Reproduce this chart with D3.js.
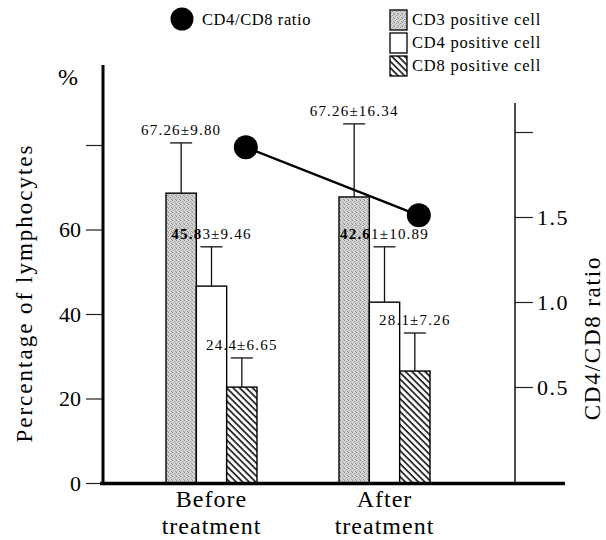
<!DOCTYPE html>
<html>
<head>
<meta charset="utf-8">
<script src="https://cdn.jsdelivr.net/npm/d3@7"></script>
<style>
body { margin: 0; background: #fff; }
svg { display: block; font-family: "Liberation Serif", "DejaVu Serif", serif; }
</style>
</head>
<body>
<svg id="chart"></svg>
<script>
//Categories
let groups = ['Before', 'After'];
let groupLines = [['Before', 'treatment'], ['After', 'treatment']];
let cells = ['CD3', 'CD4', 'CD8'];
let cellNames = ['CD3 positive cell', 'CD4 positive cell', 'CD8 positive cell'];

//Bar heights (%)
let cd3 = [68.6, 67.7];
let cd4 = [46.6, 42.8];
let cd8 = [22.7, 26.5];

//Top of each error bar (%)
let cd3Top = [80.5, 85.0];
let cd4Top = [55.9, 55.9];
let cd8Top = [29.6, 35.5];

//Printed mean ± SD
let cd3Text = ['67.26±9.80', '67.26±16.34'];
let cd4Text = ['45.83±9.46', '42.61±10.89'];
let cd8Text = ['24.4±6.65', '28.1±7.26'];

//CD4/CD8 ratio
let ratio = [1.91, 1.51];

//Tick labels
let leftTicks = [0, 20, 40, 60, 80];
let leftTickLabels = ['0', '20', '40', '60', ''];
let rightTicks = [0.5, 1.0, 1.5, 2.0];
let rightTickLabels = ['0.5', '1.0', '1.5', ''];

//Canvas
let canvas = { width: 606, height: 540 };
let svg = d3.select('#chart')
            .attr('width', canvas.width)
            .attr('height', canvas.height);

//Patterns
let defs = svg.append('defs');

let dots = defs.append('pattern')
               .attr('id', 'stipple')
               .attr('patternUnits', 'userSpaceOnUse')
               .attr('width', 4)
               .attr('height', 4);
dots.append('rect').attr('width', 4).attr('height', 4).attr('fill', '#d6d6d6');
[[0, 0, '#8c8c8c'], [2, 1, '#9a9a9a'], [1, 2, '#a8a8a8'], [3, 3, '#909090'], [0, 3, '#bcbcbc'], [3, 1, '#c0c0c0']]
  .forEach(p => {
    dots.append('rect').attr('x', p[0]).attr('y', p[1]).attr('width', 1).attr('height', 1).attr('fill', p[2]);
  });

let hatch = defs.append('pattern')
                .attr('id', 'hatch')
                .attr('patternUnits', 'userSpaceOnUse')
                .attr('width', 4.6)
                .attr('height', 4.6)
                .attr('patternTransform', 'rotate(-45)');
hatch.append('rect').attr('width', 4.6).attr('height', 4.6).attr('fill', '#fff');
hatch.append('line')
     .attr('x1', 1).attr('y1', 0).attr('x2', 1).attr('y2', 4.6)
     .attr('stroke', '#000').attr('stroke-width', 1.5);

let fills = { CD3: 'url(#stipple)', CD4: '#fff', CD8: 'url(#hatch)' };

//Scales
let yScale = d3.scaleLinear().domain([0, 80]).range([483, 145]);
let rScale = d3.scaleLinear().domain([0, 2]).range([472, 132]);
let xScale = d3.scaleBand().domain(groups).range([166, 430]).paddingInner(0.474);
let xSub = d3.scaleBand().domain(cells).range([0, xScale.bandwidth()]);

//Table for drawing
let rows = [];
groups.forEach((g, i) => {
  rows.push({ group: g, cell: 'CD3', value: cd3[i], top: cd3Top[i], text: cd3Text[i] });
  rows.push({ group: g, cell: 'CD4', value: cd4[i], top: cd4Top[i], text: cd4Text[i] });
  rows.push({ group: g, cell: 'CD8', value: cd8[i], top: cd8Top[i], text: cd8Text[i] });
});
let barX = (d) => xScale(d.group) + xSub(d.cell);
let barMid = (d) => barX(d) + xSub.bandwidth() / 2;

//Left axis
let leftAxis = d3.axisLeft(yScale)
                 .tickValues(leftTicks)
                 .tickSize(17)
                 .tickPadding(5)
                 .tickFormat((d, i) => leftTickLabels[i]);
let gl = svg.append('g')
            .attr('transform', 'translate(103, 0)')
            .call(leftAxis);
gl.select('.domain').remove();
gl.selectAll('.tick line').attr('stroke', '#222').attr('stroke-width', 1.2);
gl.selectAll('.tick text')
  .attr('font-family', '"Liberation Serif", serif')
  .attr('font-size', 22)
  .attr('fill', '#000');
svg.append('line')
   .attr('x1', 103).attr('x2', 103)
   .attr('y1', 65).attr('y2', 485)
   .attr('stroke', '#000').attr('stroke-width', 3);

//Right axis
let rightAxis = d3.axisRight(rScale)
                  .tickValues(rightTicks)
                  .tickSize(18)
                  .tickPadding(4)
                  .tickFormat((d, i) => rightTickLabels[i]);
let gr = svg.append('g')
            .attr('transform', 'translate(515, 0)')
            .call(rightAxis);
gr.select('.domain').remove();
gr.selectAll('.tick line').attr('stroke', '#222').attr('stroke-width', 1.2);
gr.selectAll('.tick text')
  .attr('font-family', '"Liberation Serif", serif')
  .attr('font-size', 22)
  .attr('letter-spacing', 1.5)
  .attr('fill', '#000');
svg.append('line')
   .attr('x1', 515).attr('x2', 515)
   .attr('y1', 103).attr('y2', 484)
   .attr('stroke', '#111').attr('stroke-width', 1.5);

//Bars
svg.selectAll('rect.bar')
   .data(rows)
   .enter()
   .append('rect')
   .attr('class', 'bar')
   .attr('x', (d) => barX(d))
   .attr('y', (d) => yScale(d.value))
   .attr('width', xSub.bandwidth())
   .attr('height', (d) => yScale(0) - yScale(d.value))
   .attr('fill', (d) => fills[d.cell])
   .attr('stroke', '#000')
   .attr('stroke-width', 1.4);

//Error bars
svg.selectAll('line.err')
   .data(rows)
   .enter()
   .append('line')
   .attr('class', 'err')
   .attr('x1', barMid).attr('x2', barMid)
   .attr('y1', (d) => yScale(d.value))
   .attr('y2', (d) => yScale(d.top))
   .attr('stroke', '#111').attr('stroke-width', 1.3);
svg.selectAll('line.cap')
   .data(rows)
   .enter()
   .append('line')
   .attr('class', 'cap')
   .attr('x1', (d) => barMid(d) - 11).attr('x2', (d) => barMid(d) + 11)
   .attr('y1', (d) => yScale(d.top))
   .attr('y2', (d) => yScale(d.top))
   .attr('stroke', '#111').attr('stroke-width', 1.3);

//Value labels
let labels = svg.selectAll('text.val')
   .data(rows)
   .enter()
   .append('text')
   .attr('class', 'val')
   .attr('x', barMid)
   .attr('y', (d) => yScale(d.top) - 8)
   .attr('text-anchor', 'middle')
   .attr('font-size', 15)
   .attr('letter-spacing', 1.2)
   .attr('fill', '#000');
labels.each(function(d) {
  let t = d3.select(this);
  if (d.cell == 'CD4') {
    //the part printed over the grey bar looks heavier
    t.append('tspan').attr('font-weight', 'bold').text(d.text.slice(0, 4));
    t.append('tspan').text(d.text.slice(4));
  } else {
    t.text(d.text);
  }
});

//x axis line and category names
svg.append('line')
   .attr('x1', 100).attr('x2', 565)
   .attr('y1', 483.5).attr('y2', 483.5)
   .attr('stroke', '#000').attr('stroke-width', 3.5);

groups.forEach((g, i) => {
  let cx = xScale(g) + xScale.bandwidth() / 2;
  groupLines[i].forEach((s, j) => {
    svg.append('text')
       .attr('x', cx)
       .attr('y', 507 + j * 27)
       .attr('text-anchor', 'middle')
       .attr('font-size', 24)
       .attr('letter-spacing', 1)
       .text(s);
  });
});

//Ratio line and points
let ratioX = (i) => xScale(groups[i]) + xSub('CD8') + xSub.bandwidth() / 2 + 4;
svg.append('path')
   .datum(ratio)
   .attr('d', d3.line().x((d, i) => ratioX(i)).y((d) => rScale(d)))
   .attr('fill', 'none')
   .attr('stroke', '#000')
   .attr('stroke-width', 2.5);
svg.selectAll('circle.ratio')
   .data(ratio)
   .enter()
   .append('circle')
   .attr('class', 'ratio')
   .attr('cx', (d, i) => ratioX(i))
   .attr('cy', (d) => rScale(d))
   .attr('r', 12)
   .attr('fill', '#000');

//Axis titles
svg.append('text')
   .attr('x', 68).attr('y', 85)
   .attr('text-anchor', 'middle')
   .attr('font-size', 24)
   .text('%');

svg.append('text')
   .attr('transform', 'translate(32, 293) rotate(-90)')
   .attr('text-anchor', 'middle')
   .attr('font-size', 23)
   .attr('letter-spacing', 2)
   .text('Percentage of lymphocytes');

svg.append('text')
   .attr('transform', 'translate(600, 338) rotate(-90)')
   .attr('text-anchor', 'middle')
   .attr('font-size', 23)
   .attr('letter-spacing', 1.8)
   .text('CD4/CD8 ratio');

//Legend
svg.append('circle')
   .attr('cx', 182).attr('cy', 19)
   .attr('r', 11.5)
   .attr('fill', '#000');
svg.append('text')
   .attr('x', 202).attr('y', 25)
   .attr('font-size', 16.5)
   .attr('letter-spacing', 0.6)
   .text('CD4/CD8 ratio');

let legend = svg.selectAll('g.leg')
   .data(cells)
   .enter()
   .append('g')
   .attr('class', 'leg')
   .attr('transform', (d, i) => 'translate(390, ' + (10 + i * 23) + ')');
legend.append('rect')
   .attr('width', 17).attr('height', 20)
   .attr('fill', (d) => fills[d])
   .attr('stroke', '#000')
   .attr('stroke-width', 1.3);
legend.append('text')
   .attr('x', 22).attr('y', 15)
   .attr('font-size', 16.5)
   .attr('letter-spacing', 0.8)
   .text((d, i) => cellNames[i]);
</script>
</body>
</html>
